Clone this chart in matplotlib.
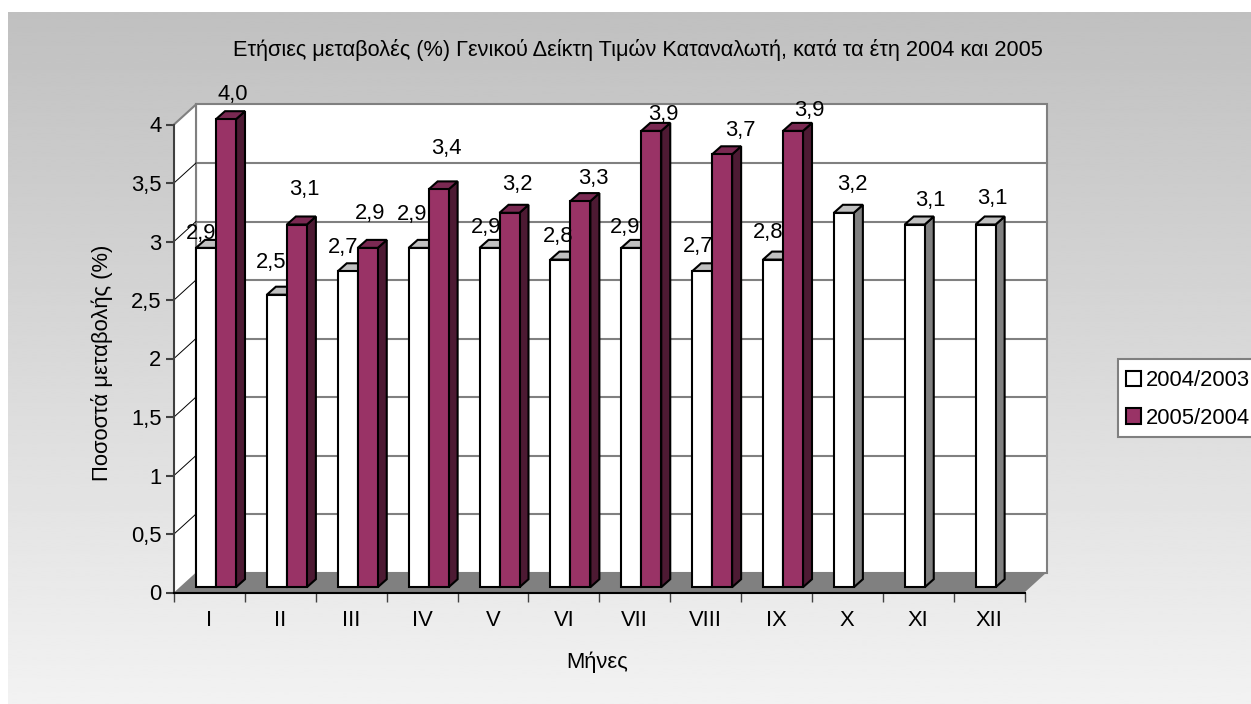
import numpy as np
import matplotlib
matplotlib.use("Agg")
import matplotlib.pyplot as plt
from matplotlib.patches import Polygon, Patch, Rectangle

months = ["I", "II", "III", "IV", "V", "VI", "VII", "VIII", "IX", "X", "XI", "XII"]
series_names = ["2004/2003", "2005/2004"]
values_2004 = [2.9, 2.5, 2.7, 2.9, 2.9, 2.8, 2.9, 2.7, 2.8, 3.2, 3.1, 3.1]
values_2005 = [4.0, 3.1, 2.9, 3.4, 3.2, 3.3, 3.9, 3.7, 3.9]
value_ticks = [0, 0.5, 1, 1.5, 2, 2.5, 3, 3.5, 4]
value_tick_labels = ["0", "0,5", "1", "1,5", "2", "2,5", "3", "3,5", "4"]

# label offsets from the bar top, in pixels (dx, dy up)
offsets_2004 = [(-5, 14), (-6, 32), (-5, 24), (-7, 33), (-3, 20), (-2, 23),
                (-6, 20), (-4, 25), (-5, 27), (9, 28.5), (16, 24), (7, 26)]
offsets_2005 = [(7, 25), (7, 35.5), (2, 34), (8, 41), (7.5, 28.5), (12.6, 23),
                (12, 16.6), (18.6, 24), (16, 20.6)]

W, H = 1251, 704
plt.rcParams["font.family"] = ["Liberation Sans", "DejaVu Sans"]
FS = 15.8
fig = plt.figure(figsize=(W / 100, H / 100), dpi=100, facecolor="white")

# gradient background
bg = fig.add_axes([8 / W, 0, 1 - 8 / W, 1 - 12 / H], zorder=0)
bg.imshow(np.linspace(192, 242, 256).reshape(-1, 1), cmap="gray", vmin=0, vmax=255,
          aspect="auto", interpolation="bilinear")
bg.axis("off")

# main axes = front plane of the 3D box
L, R, T, B = 174.0, 1024.5, 124.5, 592.5
ax = fig.add_axes([L / W, 1 - B / H, (R - L) / W, (B - T) / H], zorder=1)
ax.patch.set_alpha(0)
ax.set_xlim(0, 12)
ax.set_ylim(0, 4)
px = (R - L) / 12
py = (B - T) / 4
DX, DY = 22 / px, 20 / py
GRAY = "#808080"

# walls & floor
ax.add_patch(Polygon([(DX, DY), (12 + DX, DY), (12 + DX, 4 + DY), (DX, 4 + DY)],
                     fc="white", ec=GRAY, lw=1.5, clip_on=False, zorder=1))
ax.add_patch(Polygon([(0, 0), (DX, DY), (DX, 4 + DY), (0, 4)],
                     fc="white", ec="none", clip_on=False, zorder=1))
ax.plot([0, DX], [4, 4 + DY], color=GRAY, lw=1.5, clip_on=False, zorder=2)
ax.plot([DX, DX], [DY, 4 + DY], color=GRAY, lw=1.5, clip_on=False, zorder=2)
ax.add_patch(Polygon([(0, 0), (12, 0), (12 + DX, DY), (DX, DY)],
                     fc=GRAY, ec="none", clip_on=False, zorder=2))
for v in value_ticks[1:-1]:
    ax.plot([DX, 12 + DX], [v + DY, v + DY], color=GRAY, lw=1.5, clip_on=False, zorder=2)
    ax.plot([0, DX], [v, v + DY], color="black", lw=0.7, clip_on=False, zorder=2)


# bars
BAR_X0 = 22 / px
BAR_W = 20 / px
BASE = 5.3 / py
BDX, BDY = 9 / px, 8 / py


def draw_bar(x, v, front, side, top, z):
    y0, y1 = BASE, BASE + v
    kw = dict(ec="black", lw=1.5, joinstyle="miter", clip_on=False, zorder=z)
    ax.add_patch(Polygon([(x + BAR_W, y0), (x + BAR_W + BDX, y0 + BDY),
                          (x + BAR_W + BDX, y1 + BDY), (x + BAR_W, y1)], fc=side, **kw))
    ax.add_patch(Polygon([(x, y1), (x + BDX, y1 + BDY), (x + BAR_W + BDX, y1 + BDY),
                          (x + BAR_W, y1)], fc=top, **kw))
    ax.bar(x, v, BAR_W, bottom=y0, align="edge", color=front, edgecolor="black",
           linewidth=1.5, clip_on=False, zorder=z)


for i, v in enumerate(values_2004):
    draw_bar(i + BAR_X0, v, "white", GRAY, "#c0c0c0", 3 + i * 0.1)
for i, v in enumerate(values_2005):
    draw_bar(i + BAR_X0 + BAR_W, v, "#993366", "#4d1a33", "#7a2952", 3.05 + i * 0.1)

# value labels
for i, v in enumerate(values_2004):
    ax.annotate(f"{v:.1f}".replace(".", ","), (i + BAR_X0 + BAR_W / 2, BASE + v),
                xytext=offsets_2004[i], textcoords="offset pixels",
                ha="center", va="center", fontsize=FS, zorder=10, annotation_clip=False)
for i, v in enumerate(values_2005):
    ax.annotate(f"{v:.1f}".replace(".", ","), (i + BAR_X0 + 1.5 * BAR_W, BASE + v),
                xytext=offsets_2005[i], textcoords="offset pixels",
                ha="center", va="center", fontsize=FS, zorder=10, annotation_clip=False)

# axes
for s in ("top", "right"):
    ax.spines[s].set_visible(False)
ax.spines["left"].set_color("#404040")
ax.spines["left"].set_linewidth(1.5)
ax.spines["bottom"].set_color("black")
ax.spines["bottom"].set_linewidth(1.5)
for s in ax.spines.values():
    s.set_zorder(9)
ax.set_yticks(value_ticks)
ax.set_yticklabels(value_tick_labels, fontsize=FS)
ax.set_xticks(np.arange(13))
ax.set_xticklabels([])
ax.set_xticks(np.arange(12) + 0.5, labels=months, minor=True, fontsize=FS)
ax.tick_params(axis="y", length=6, width=1.5, color="#404040", pad=3)
ax.tick_params(axis="x", which="major", length=6.5, width=1, color="#404040")
ax.tick_params(axis="x", which="minor", length=0, pad=12.5)

ax.set_xlabel("Μήνες", fontsize=FS)
ax.xaxis.set_label_coords((597 - L) / (R - L), (B - 662) / (B - T), transform=ax.transAxes)
ax.xaxis.label.set_va("center")
ax.set_ylabel("Ποσοστά μεταβολής (%)", fontsize=FS)
ax.yaxis.set_label_coords((102 - L) / (R - L), (B - 363) / (B - T), transform=ax.transAxes)
ax.yaxis.label.set_va("center")
ax.set_title("Ετήσιες μεταβολές (%) Γενικού Δείκτη Τιμών Καταναλωτή, κατά τα έτη 2004 και 2005",
             fontsize=15.7, x=(638 - L) / (R - L), y=(B - 50) / (B - T), va="center", pad=0)

# legend
fig.add_artist(Rectangle((1118 / W, 1 - 437 / H), 140 / W, 78.3 / H, transform=fig.transFigure,
                         fc="white", ec=GRAY, lw=1.5, zorder=0.5))
handles = [Patch(fc="white", ec="black", lw=1.5), Patch(fc="#993366", ec="black", lw=1.5)]
leg = ax.legend(handles, series_names, loc="upper left",
                bbox_to_anchor=(1125.7 / W, 1 - 370 / H), bbox_transform=fig.transFigure,
                fontsize=FS, borderaxespad=0, frameon=False, handlelength=0.68, handleheight=0.68,
                handletextpad=0.26, labelspacing=0.76, borderpad=0)
leg.set_zorder(11)
fig.savefig("out.png", dpi=100)
